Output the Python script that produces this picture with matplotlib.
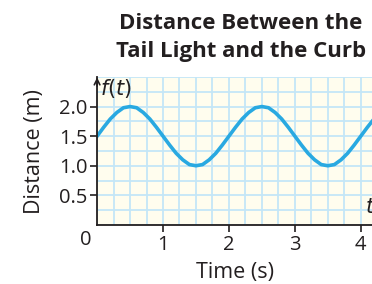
"""Distance between the tail light and the curb, f(t) over time."""

import matplotlib

matplotlib.use("Agg")
import matplotlib.pyplot as plt
import numpy as np

# Points (time in s, distance in m).
time_s = [0.0, 0.1, 0.2, 0.3, 0.4, 0.5, 0.6, 0.7, 0.8, 0.9,
          1.0, 1.1, 1.2, 1.3, 1.4, 1.5, 1.6, 1.7, 1.8, 1.9,
          2.0, 2.1, 2.2, 2.3, 2.4, 2.5, 2.6, 2.7, 2.8, 2.9,
          3.0, 3.1, 3.2, 3.3, 3.4, 3.5, 3.6, 3.7, 3.8, 3.9,
          4.0, 4.1, 4.2]
distance_m = [1.50, 1.65, 1.79, 1.90, 1.98, 2.00, 1.98, 1.90, 1.79, 1.65,
              1.50, 1.35, 1.21, 1.10, 1.02, 1.00, 1.02, 1.10, 1.21, 1.35,
              1.50, 1.65, 1.79, 1.90, 1.98, 2.00, 1.98, 1.90, 1.79, 1.65,
              1.50, 1.35, 1.21, 1.10, 1.02, 1.00, 1.02, 1.10, 1.21, 1.35,
              1.50, 1.65, 1.79]
x_ticks = [1, 2, 3, 4]
y_ticks = [0.5, 1.0, 1.5, 2.0]
y_tick_labels = ["0.5", "1.0", "1.5", "2.0"]

INK = "#231f20"
plt.rcParams["font.family"] = ["Open Sans", "DejaVu Sans"]

fig = plt.figure(figsize=(3.72, 2.84), dpi=100)
ax = fig.add_axes([0.261, 0.208, 0.739, 0.521])
ax.set_facecolor("#fffdee")
ax.set_xlim(0, 4.17)
ax.set_ylim(0, 2.5)

ax.set_xticks(np.arange(0, 4.2, 0.25), minor=True)
ax.set_yticks(np.arange(0, 2.51, 0.25), minor=True)
ax.grid(True, which="both", color="#c4e6f7", linewidth=1.3)
ax.set_axisbelow(True)

ax.plot(time_s, distance_m, color="#29a9e1", linewidth=2.6)

ax.set_xticks(x_ticks)
ax.set_xticklabels([str(v) for v in x_ticks], fontsize=14.5, color=INK)
ax.set_yticks(y_ticks)
ax.set_yticklabels(y_tick_labels, fontsize=14.5, color=INK)
ax.tick_params(which="minor", length=0)
ax.tick_params(axis="both", which="major", length=5, width=1.2, color=INK, pad=2)

for side in ("top", "right"):
    ax.spines[side].set_visible(False)
for side in ("left", "bottom"):
    ax.spines[side].set_color(INK)
    ax.spines[side].set_linewidth(1.3)

# arrowhead on the vertical axis
ax.annotate("", xy=(0, 2.54), xytext=(0, 2.3), xycoords="data",
            arrowprops=dict(arrowstyle="->", color=INK, lw=1.2), annotation_clip=False)
ax.text(0.05, 2.3, r"$f(t)$", fontsize=15, color=INK, va="center", ha="left")
ax.text(4.07, 0.3, r"$t$", fontsize=15, color=INK, va="center", ha="left")
ax.text(-0.08, -0.08, "0", fontsize=14.5, color=INK, va="top", ha="right")

ax.set_xlabel("Time (s)", fontsize=15.5, color=INK, labelpad=5)
fig.text(0.094, 0.465, "Distance (m)", rotation=90, fontsize=15.5, color=INK,
         ha="center", va="center")

fig.text(0.648, 0.918, "Distance Between the", fontsize=16, fontweight="bold",
         color=INK, ha="center", va="center")
fig.text(0.648, 0.818, "Tail Light and the Curb", fontsize=16, fontweight="bold",
         color=INK, ha="center", va="center")

fig.savefig("out.png", dpi=100, facecolor="white")
plt.close(fig)
